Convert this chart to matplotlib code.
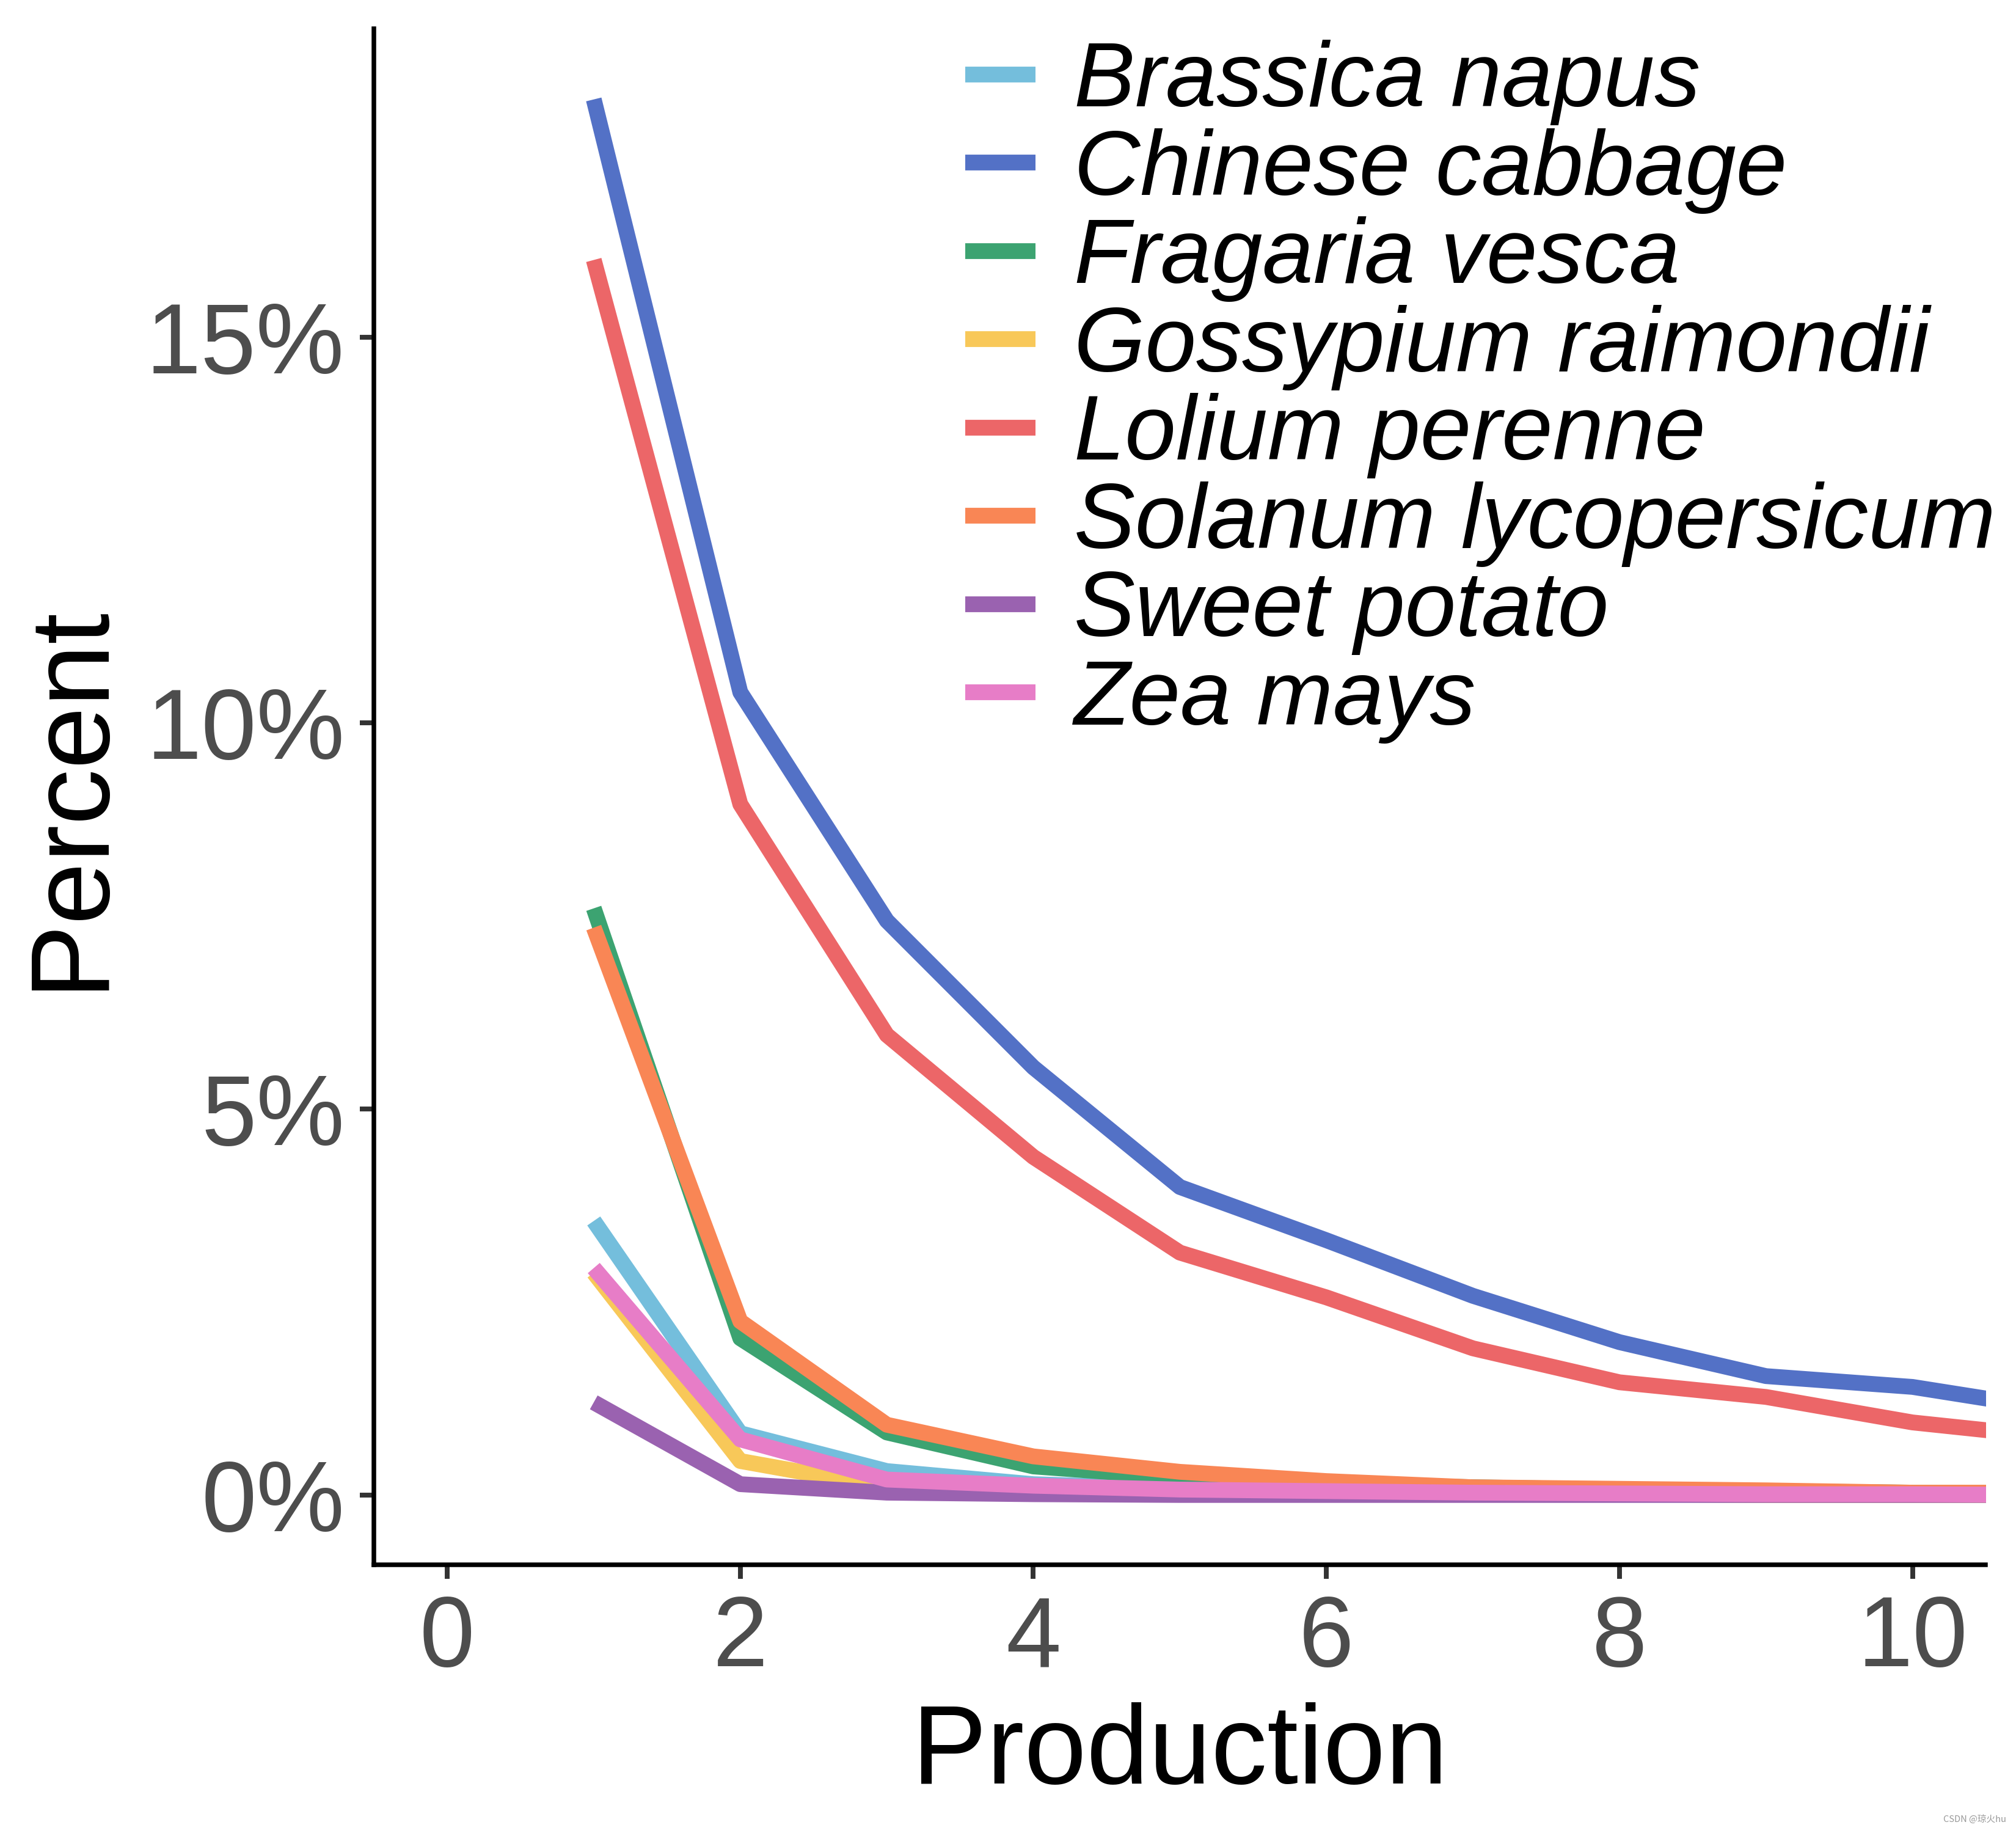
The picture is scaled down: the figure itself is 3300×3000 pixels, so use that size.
import matplotlib
matplotlib.use("Agg")
import matplotlib.pyplot as plt

plt.rcParams['font.family'] = ['Liberation Sans', 'DejaVu Sans']

production = [1, 2, 3, 4, 5, 6, 7, 8, 9, 10, 11]

species = ["Brassica napus", "Chinese cabbage", "Fragaria vesca", "Gossypium raimondii",
           "Lolium perenne", "Solanum lycopersicum", "Sweet potato", "Zea mays"]

brassica_napus = [3.55, 0.80, 0.31, 0.14, 0.08, 0.05, 0.04, 0.03, 0.02, 0.02, 0.01]
chinese_cabbage = [18.08, 10.40, 7.44, 5.54, 3.99, 3.30, 2.58, 1.98, 1.54, 1.40, 1.10]
fragaria_vesca = [7.60, 2.03, 0.81, 0.37, 0.23, 0.15, 0.10, 0.07, 0.05, 0.03, 0.02]
gossypium_raimondii = [2.88, 0.44, 0.10, 0.04, 0.02, 0.01, 0.01, 0.01, 0.00, 0.00, 0.00]
lolium_perenne = [16.00, 8.95, 5.96, 4.38, 3.14, 2.56, 1.90, 1.46, 1.27, 0.94, 0.74]
solanum_lycopersicum = [7.35, 2.25, 0.91, 0.50, 0.30, 0.18, 0.10, 0.08, 0.06, 0.03, 0.03]
sweet_potato = [1.20, 0.14, 0.03, 0.01, 0.00, 0.00, 0.00, 0.00, 0.00, 0.00, 0.00]
zea_mays = [2.94, 0.72, 0.20, 0.12, 0.07, 0.05, 0.03, 0.02, 0.01, 0.01, 0.00]

series = [brassica_napus, chinese_cabbage, fragaria_vesca, gossypium_raimondii,
          lolium_perenne, solanum_lycopersicum, sweet_potato, zea_mays]

colors = ["#74BEDC", "#5371C6", "#3CA371", "#F8C859",
          "#EC6668", "#F98655", "#9A62B0", "#E77DC7"]

xticks = [0, 2, 4, 6, 8, 10]
yticks = [0, 5, 10, 15]
ytick_labels = ["0%", "5%", "10%", "15%"]

fig = plt.figure(figsize=(11, 10), dpi=300)
ax = fig.add_axes([0.1855, 0.1463, 0.7995, 0.8382])

for name, vals, col in zip(species, series, colors):
    ax.plot(production, vals, color=col, lw=6.2, label=name,
            solid_capstyle='butt', solid_joinstyle='round')

ax.set_xlim(-0.5, 10.5)
ax.set_ylim(-0.905, 19.0)
ax.set_xticks(xticks)
ax.set_yticks(yticks)
ax.set_yticklabels(ytick_labels)

for s in ['top', 'right']:
    ax.spines[s].set_visible(False)
for s in ['left', 'bottom']:
    ax.spines[s].set_linewidth(1.8)
    ax.spines[s].set_color('black')

ax.tick_params(axis='both', length=5.5, width=1.9, color='#333333',
               labelsize=39, labelcolor='#4D4D4D', pad=6)

ax.set_xlabel("Production", fontsize=44, color='black', labelpad=6)
ax.set_ylabel("Percent", fontsize=44, color='black', labelpad=9)

leg = ax.legend(loc='upper left', bbox_to_anchor=(0.344, 1.0165), frameon=False,
                prop={'size': 36, 'style': 'italic'}, handlelength=0.77,
                handletextpad=0.42, labelspacing=0.03, borderaxespad=0)

fig.text(0.995, 0.005, "CSDN @琼火hu", fontsize=3.5, color='#999999', ha='right', va='bottom',
         family=['Noto Sans CJK SC', 'DejaVu Sans'])

fig.savefig("out.png", dpi=300, facecolor='white')
